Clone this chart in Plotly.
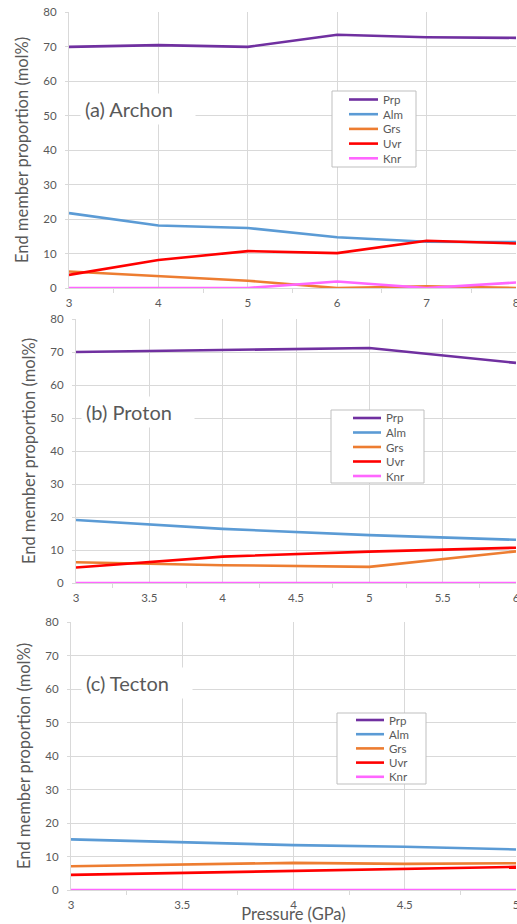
import plotly.graph_objects as go

# ---------------- data ----------------
series_names = ["Prp", "Alm", "Grs", "Uvr", "Knr"]
series_colors = ["#7030A0", "#5B9BD5", "#ED7D31", "#FF0000", "#FF66FF"]

# (a) Archon
p_archon = [3, 4, 5, 6, 7, 8]
archon_prp = [69.9, 70.4, 69.9, 73.4, 72.7, 72.5]
archon_alm = [21.7, 18.1, 17.4, 14.7, 13.4, 13.3]
archon_grs = [4.8, 3.5, 2.1, 0.0, 0.5, 0.0]
archon_uvr = [3.8, 8.1, 10.7, 10.1, 13.7, 12.9]
archon_knr = [0.0, 0.0, 0.0, 1.9, 0.0, 1.6]

# (b) Proton
p_proton = [3, 4, 5, 6]
proton_prp = [70.0, 70.5, 71.2, 66.7]
proton_alm = [19.1, 16.4, 14.5, 13.1]
proton_grs = [6.3, 5.4, 4.9, 9.6]
proton_uvr = [4.7, 8.0, 9.5, 10.7]
proton_knr = [0.0, 0.0, 0.0, 0.0]

# (c) Tecton
p_tecton = [3, 3.5, 4, 4.5, 5]
tecton_prp = [None, None, None, None, None]
tecton_alm = [15.1, 14.3, 13.4, 12.9, 12.1]
tecton_grs = [7.1, 7.5, 8.1, 7.8, 8.0]
tecton_uvr = [4.5, 5.1, 5.8, 6.4, 6.9]
tecton_knr = [0.0, 0.0, 0.0, 0.0, 0.0]

panel_labels = ["(a) Archon", "(b) Proton", "(c) Tecton"]
y_title = "End member proportion (mol%)"
x_title = "Pressure (GPa)"

panels = [
    (p_archon, [archon_prp, archon_alm, archon_grs, archon_uvr, archon_knr]),
    (p_proton, [proton_prp, proton_alm, proton_grs, proton_uvr, proton_knr]),
    (p_tecton, [tecton_prp, tecton_alm, tecton_grs, tecton_uvr, tecton_knr]),
]

# ---------------- layout geometry (pixels) ----------------
W, H = 517, 924
FONT = "Lato, 'Open Sans', sans-serif"
TXT = "#595959"
GRID = "#D9D9D9"

def px_x(x):
    return x / W

def px_y(y):
    return 1 - y / H

# plot areas: (left, right, top, bottom) in px
areas = [(69, 516, 12, 288), (76, 516, 319, 583), (71, 516, 622, 890)]
# legend boxes: (left, top, right, bottom, line x0, line x1, text x, first item y, step)
legend_geo = [
    (332, 91, 416, 167, 349, 378, 381, 99.5, 14.7),
    (331, 410, 424, 483, 353, 381, 384, 418, 14.5),
    (337, 713, 426, 784, 356, 384, 387, 720, 14.2),
]
label_box = [(80, 93, 114, 30), (81, 396, 112, 30), (81, 667, 110, 30)]
x_dtick = [1, 0.5, 0.5]
x_range = [[3, 8], [3, 6], [3, 5]]

fig = go.Figure()
layout = dict(
    template="none",
    width=W, height=H,
    margin=dict(l=0, r=0, t=0, b=0, pad=0),
    paper_bgcolor="white", plot_bgcolor="white",
    font=dict(family=FONT, color=TXT, size=11),
    showlegend=False,
    annotations=[], shapes=[],
)

for i, (xs, ys_list) in enumerate(panels):
    sfx = "" if i == 0 else str(i + 1)
    xa, ya = "x" + sfx, "y" + sfx
    for name, color, ys in zip(series_names, series_colors, ys_list):
        fig.add_trace(go.Scatter(
            x=xs, y=ys, name=name, mode="lines",
            line=dict(color=color, width=2.6), cliponaxis=False,
            xaxis=xa, yaxis=ya, showlegend=False,
        ))
    l, r, t, b = areas[i]
    layout["xaxis" + sfx] = dict(
        domain=[px_x(l), px_x(r)], anchor=ya, range=x_range[i],
        dtick=x_dtick[i], tick0=3, showgrid=True, gridcolor=GRID, gridwidth=1,
        zeroline=False, showline=True, linecolor=GRID, linewidth=1,
        ticks="outside", ticklen=0, tickcolor=GRID, ticklabelstandoff=4,
        ticklabeloverflow="allow", layer="below traces",
        tickfont=dict(size=11.5, color=TXT),
        minor=dict(dtick=x_dtick[i] / 2, ticks="outside", ticklen=4,
                   tickcolor=GRID, showgrid=False),
        automargin=False, fixedrange=True,
    )
    if i == 2:
        layout["xaxis" + sfx]["title"] = dict(text=x_title, font=dict(size=16.5, color=TXT), standoff=0)
    layout["yaxis" + sfx] = dict(
        domain=[px_y(b), px_y(t)], anchor=xa, range=[0, 80], dtick=10,
        showgrid=True, gridcolor=GRID, gridwidth=1, zeroline=False,
        showline=True, linecolor=GRID, linewidth=1,
        ticks="outside", ticklen=3, tickcolor=GRID, ticklabelstandoff=6,
        ticklabeloverflow="allow", layer="below traces",
        tickfont=dict(size=11.5, color=TXT),
        title=dict(text=y_title, font=dict(size=16.5, color=TXT), standoff=10),
        automargin=False, fixedrange=True,
    )
    # legend box drawn in paper coordinates
    lx0, ly0, lx1, ly1, sx0, sx1, tx, iy, step = legend_geo[i]
    layout["shapes"].append(dict(
        type="rect", xref="paper", yref="paper",
        x0=px_x(lx0), x1=px_x(lx1), y0=px_y(ly1), y1=px_y(ly0),
        line=dict(color="#BFBFBF", width=1), fillcolor="white", layer="above",
    ))
    for k, (name, color) in enumerate(zip(series_names, series_colors)):
        yy = iy + k * step
        layout["shapes"].append(dict(
            type="line", xref="paper", yref="paper",
            x0=px_x(sx0), x1=px_x(sx1), y0=px_y(yy), y1=px_y(yy),
            line=dict(color=color, width=2.6), layer="above",
        ))
        layout["annotations"].append(dict(
            text=name, xref="paper", yref="paper",
            x=px_x(tx), y=px_y(yy), xanchor="left", yanchor="middle",
            showarrow=False, font=dict(size=11.5, color=TXT, family=FONT),
        ))
    bx, by, bw, bh = label_box[i]
    layout["annotations"].append(dict(
        text=panel_labels[i], xref="paper", yref="paper",
        x=px_x(bx), y=px_y(by), xanchor="left", yanchor="top",
        showarrow=False, bgcolor="white", width=bw - 8, height=bh - 8,
        align="left", valign="middle", borderpad=4,
        font=dict(size=20, color=TXT, family=FONT),
    ))

fig.update_layout(**layout)
fig.write_html("out.html")
